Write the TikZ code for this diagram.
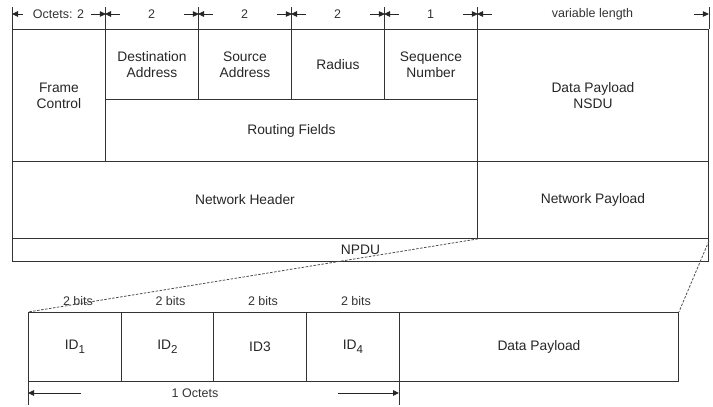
\documentclass[tikz,border=0pt]{standalone}
\usepackage{fontspec}
\setmainfont{Liberation Sans}
\usetikzlibrary{arrows.meta}
\newcommand{\idsub}[1]{\raisebox{-3.5pt}{\fontsize{11.5}{12}\selectfont #1}}
\begin{document}
\begin{tikzpicture}[x=1pt, y=-1pt,
		cell/.style={draw=black!80, line width=0.9pt, rectangle, inner sep=0pt, anchor=north west, align=center, font=\fontsize{13.8}{16}\selectfont, text=black!85},
		small/.style={font=\fontsize{12.5}{14}\selectfont, text=black!80, inner sep=0pt},
		dim/.style={-{Triangle[length=6pt,width=5.5pt]}, black!85, line width=0.9pt},
		tick/.style={black!80, line width=0.8pt}]
	\useasboundingbox (0,0) rectangle (713,407);

	% NPDU frame
	\node[cell, minimum width=93pt, minimum height=132pt] (fc) at (12,29) {Frame\\Control};
	\node[cell, minimum width=93pt, minimum height=70pt] (da) at (105,29) {Destination\\Address};
	\node[cell, minimum width=93pt, minimum height=70pt] (sa) at (198,29) {Source\\Address};
	\node[cell, minimum width=93pt, minimum height=70pt] (rad) at (291,29) {Radius};
	\node[cell, minimum width=93pt, minimum height=70pt] (seq) at (384,29) {Sequence\\Number};
	\node[cell, minimum width=372pt, minimum height=62pt] (rf) at (105,99) {Routing Fields};
	\node[cell, minimum width=231pt, minimum height=132pt] (dp) at (477,29) {Data Payload\\NSDU};
	\node[cell, minimum width=465pt, minimum height=77pt] (nh) at (12,161) {Network Header};
	\node[cell, minimum width=231pt, minimum height=77pt] (np) at (477,161) {Network Payload};
	\node[cell, minimum width=696pt, minimum height=23pt] (npdu) at (12,238) {NPDU};

	% field lengths
	\node[small] (w1) at (58.5,14) {Octets: 2};
	\node[small] (w2) at (151.5,14) {2};
	\node[small] (w3) at (244.5,14) {2};
	\node[small] (w4) at (337.5,14) {2};
	\node[small] (w5) at (430.5,14) {1};
	\node[small] (w6) at (592.5,14) {variable length};
	\foreach \c in {fc,da,sa,rad,seq,dp}
		\draw[tick] (\c.north west) -- ++(0,-22);
	\draw[tick] (dp.north east) -- ++(0,-22);
	\foreach \c/\l in {fc/11,da/15,sa/15,rad/15,seq/15,dp/15}
		\draw[dim] ([xshift=\l pt]\c.north west |- w1) -- (\c.north west |- w1);
	\foreach \c in {fc,da,sa,rad,seq,dp}
		\draw[dim] ([xshift=-15pt]\c.north east |- w1) -- (\c.north east |- w1);

	% payload fields
	\node[cell, minimum width=93pt, minimum height=69pt] (id1) at (28,312) {ID\idsub{1}};
	\node[cell, minimum width=92pt, minimum height=69pt] (id2) at (121,312) {ID\idsub{2}};
	\node[cell, minimum width=93pt, minimum height=69pt] (id3) at (213,312) {ID3};
	\node[cell, minimum width=93pt, minimum height=69pt] (id4) at (306,312) {ID\idsub{4}};
	\node[cell, minimum width=279pt, minimum height=69pt] (pay) at (399,312) {Data Payload};
	\foreach \c in {id1,id2,id3,id4}
		\node[small] (b\c) at ([xshift=3pt,yshift=11pt]\c.north) {2 bits};

	\node[small] (oct) at (195,393) {1 Octets};
	\draw[tick] (id1.south west) -- ++(0,23);
	\draw[tick] (pay.south west) -- ++(0,23);
	\draw[dim] ([xshift=53pt]id1.south west |- oct) -- (id1.south west |- oct);
	\draw[dim] ([xshift=-61pt]pay.south west |- oct) -- (pay.south west |- oct);

	\draw[black!70, line width=0.8pt, dash pattern=on 2.5pt off 1.5pt] (nh.south east) -- (id1.north west);
	\draw[black!70, line width=0.8pt, dash pattern=on 2.5pt off 1.5pt] ([yshift=-3pt]npdu.north east) -- (pay.north east);
\end{tikzpicture}
\end{document}
